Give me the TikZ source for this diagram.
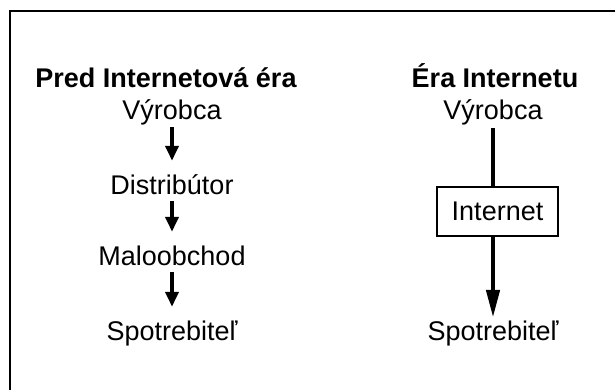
\documentclass[tikz,border=0pt]{standalone}
\usepackage{fontspec}
\setmainfont{Liberation Sans}
\usetikzlibrary{arrows.meta,positioning}

\begin{document}
\begin{tikzpicture}[
 x=1pt, y=-1pt,
 frame/.style={draw=black, line width=2.5pt},
 head/.style={font=\fontsize{27}{32}\selectfont\bfseries, anchor=base, inner sep=0pt},
 item/.style={font=\fontsize{27}{32}\selectfont, anchor=base, inner sep=0pt,
 text height=19pt, text depth=6pt},
 netbox/.style={draw=black, line width=1.8pt, font=\fontsize{27}{32}\selectfont,
 minimum width=121pt, minimum height=49pt, inner sep=0pt},
 ar/.style={-{Triangle[length=15pt,width=13pt]}, line width=4pt,
 shorten <=1pt, shorten >=14pt},
 longar/.style={-{Triangle[length=28pt,width=13pt]}, line width=4.5pt},
]
 \useasboundingbox (0,0) rectangle (615,390);
 \clip (0,0) rectangle (615,390);
 \draw[frame] (10,11) rectangle (640,410);

 % before the internet
 \node[head] (before) at (166,88) {Pred Internetová éra};
 \node[item] (prodL) at (172,120) {Výrobca};
 \node[item] (dist) at (172,194) {Distribútor};
 \node[item] (retail) at (172,265) {Maloobchod};
 \node[item] (consL) at (172,340) {Spotrebiteľ};

 \draw[ar] (prodL) -- (dist);
 \draw[ar] (dist) -- (retail);
 \draw[ar] (retail) -- (consL);

 % internet era
 \node[head] (era) at (495,88) {Éra Internetu};
 \node[item] (prodR) at (493,120) {Výrobca};
 \node[netbox] (inet) at (497.5,211.5) {Internet};
 \node[item] (consR) at (493,340) {Spotrebiteľ};

 \draw[line width=4.5pt, shorten <=2pt] (prodR.south) -- (prodR.south |- inet.north);
 \draw[longar, shorten >=3pt] (prodR.south |- inet.south) -- (consR.north);
\end{tikzpicture}
\end{document}
